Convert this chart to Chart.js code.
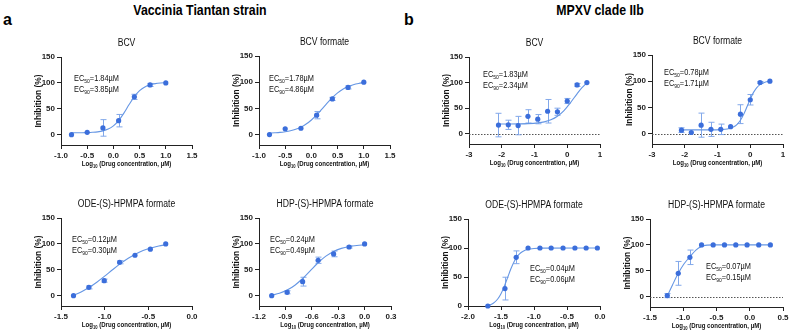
<!DOCTYPE html>
<html>
<head>
<meta charset="utf-8">
<script src="https://cdn.jsdelivr.net/npm/chart.js@4.4.1/dist/chart.umd.min.js"></script>
<style>
  body { margin: 0; width: 790px; height: 332px; overflow: hidden; background: #fff; position: relative; }
  canvas { position: absolute; }
  .hd { position: absolute; font-family: "Liberation Sans", Arial, sans-serif; font-weight: bold; color: #000; white-space: nowrap; }
</style>
</head>
<body>
<div class="hd" style="left:3px;top:11px;font-size:16px;line-height:18px">a</div>
<div class="hd" style="left:404px;top:11px;font-size:16px;line-height:18px">b</div>
<div class="hd" style="left:100px;top:1px;width:200px;text-align:center;font-size:14px;line-height:18px;transform:scaleX(0.88)">Vaccinia Tiantan strain</div>
<div class="hd" style="left:500px;top:1px;width:200px;text-align:center;font-size:14px;line-height:18px;transform:scaleX(0.88)">MPXV clade IIb</div>
<script>
// ---- data (log10 concentration, % inhibition, SD) ----
const yTicks = [0, 50, 100, 150];

// Vaccinia - BCV
const vacBcvX = [-0.8, -0.5, -0.2, 0.1, 0.4, 0.7, 1.0];
const vacBcvY = [0, 4.5, 13, 27, 73, 96, 100];
const vacBcvErr = [0, 0, 16, 12, 5, 3, 0];
const vacBcvCurveX = [-0.8, -0.7, -0.6, -0.5, -0.4, -0.3, -0.2, -0.1, 0, 0.1, 0.2, 0.3, 0.4, 0.5, 0.6, 0.7, 0.8, 0.9, 1.0];
const vacBcvCurveY = [3.6, 3.6, 3.7, 4.0, 4.5, 5.4, 7.3, 10.7, 17.0, 27.1, 41.5, 58.1, 73.4, 84.9, 92.2, 96.4, 98.6, 99.8, 100.4];
const vacBcvEC = ['1.84', '3.85'];

// Vaccinia - BCV formate
const vacBcvfX = [-0.8, -0.5, -0.2, 0.1, 0.4, 0.7, 1.0];
const vacBcvfY = [0, 11, 12, 37, 68, 90, 100];
const vacBcvfErr = [0, 0, 0, 7, 3, 3, 0];
const vacBcvfCurveX = [-0.8, -0.7, -0.6, -0.5, -0.4, -0.3, -0.2, -0.1, 0, 0.1, 0.2, 0.3, 0.4, 0.5, 0.6, 0.7, 0.8, 0.9, 1.0];
const vacBcvfCurveY = [2.9, 3.4, 4.1, 5.4, 7.2, 10.0, 14.1, 20.0, 27.8, 37.5, 48.6, 60.0, 70.6, 79.6, 86.6, 91.7, 95.2, 97.6, 99.2];
const vacBcvfEC = ['1.78', '4.86'];

// Vaccinia - ODE-(S)-HPMPA formate
const vacOdeX = [-1.357, -1.181, -1.005, -0.829, -0.653, -0.477, -0.301];
const vacOdeY = [0, 16, 29, 64.5, 78, 89.7, 100];
const vacOdeErr = [0, 3, 3, 3, 0, 0, 0];
const vacOdeCurveX = [-1.357, -1.27, -1.18, -1.09, -1.0, -0.91, -0.82, -0.73, -0.65, -0.56, -0.47, -0.38, -0.3];
const vacOdeCurveY = [0.8, 7.2, 15.7, 26.0, 37.7, 50.0, 61.8, 72.3, 80.1, 87.1, 92.2, 96.0, 98.3];
const vacOdeEC = ['0.12', '0.30'];

// Vaccinia - HDP-(S)-HPMPA formate
const vacHdpX = [-1.056, -0.880, -0.704, -0.528, -0.352, -0.176, 0];
const vacHdpY = [0, 6.5, 27, 68.4, 80.6, 94, 100];
const vacHdpErr = [0, 3, 8.5, 6, 5.5, 2, 0];
const vacHdpCurveX = [-1.056, -0.968, -0.88, -0.792, -0.704, -0.616, -0.528, -0.44, -0.352, -0.264, -0.176, -0.088, 0];
const vacHdpCurveY = [0.9, 4.6, 10.7, 20.2, 33.1, 48.5, 63.6, 76.3, 85.5, 91.3, 94.9, 96.9, 98.1];
const vacHdpEC = ['0.24', '0.49'];

// MPXV - BCV
const mpxBcvX = [-2.1, -1.8, -1.5, -1.2, -0.9, -0.6, -0.3, 0, 0.3, 0.6];
const mpxBcvY = [17, 17.5, 16, 34, 28.5, 44, 43, 64, 95.5, 100];
const mpxBcvErr = [23, 9, 18, 13, 9, 23, 7, 5, 3, 0];
const mpxBcvCurveX = [-2.1, -1.8, -1.5, -1.2, -0.9, -0.7, -0.5, -0.3, -0.1, 0.1, 0.3, 0.45, 0.6];
const mpxBcvCurveY = [19.0, 19.1, 19.3, 19.8, 21.2, 23.3, 27.3, 34.3, 45.4, 60.9, 78.1, 90.0, 99.7];
const mpxBcvEC = ['1.83', '2.34'];

// MPXV - BCV formate
const mpxBcvfX = [-2.1, -1.8, -1.5, -1.2, -0.9, -0.6, -0.3, 0, 0.3, 0.6];
const mpxBcvfY = [6.5, 2, 16, 8, 8, 13, 37, 64.5, 97.5, 100];
const mpxBcvfErr = [4.5, 0, 23, 13.5, 10, 0, 18, 10, 2, 0];
const mpxBcvfCurveX = [-2.1, -1.5, -1.2, -0.9, -0.7, -0.5, -0.4, -0.3, -0.2, -0.1, 0, 0.1, 0.2, 0.3, 0.45, 0.6];
const mpxBcvfCurveY = [7, 7, 7, 7.5, 8.7, 12.9, 17.6, 25.3, 36.7, 51.0, 65.9, 78.6, 87.8, 93.5, 98.0, 99.8];
const mpxBcvfEC = ['0.78', '1.71'];

// MPXV - ODE-(S)-HPMPA formate
const mpxOdeX = [-1.70, -1.44, -1.27, -1.09, -0.91, -0.74, -0.56, -0.38, -0.21, -0.04];
const mpxOdeY = [0, 30, 84, 100, 100, 100, 100, 100, 100, 100];
const mpxOdeErr = [0, 19.6, 11, 0, 0, 0, 0, 0, 0, 0];
const mpxOdeCurveX = [-1.70, -1.65, -1.60, -1.55, -1.50, -1.45, -1.40, -1.35, -1.30, -1.25, -1.20, -1.15, -1.10, -1.0, -0.9, -0.04];
const mpxOdeCurveY = [0.6, 2.6, 6.2, 12.1, 21.2, 33.9, 49, 64.1, 76.8, 85.9, 91.8, 95.4, 97.4, 99.2, 99.8, 100];
const mpxOdeEC = ['0.04', '0.06'];

// MPXV - HDP-(S)-HPMPA formate
const mpxHdpX = [-1.24, -1.075, -0.90, -0.725, -0.55, -0.38, -0.21, -0.04, 0.135, 0.31];
const mpxHdpY = [2, 45, 76, 100, 100, 100, 100, 100, 100, 100];
const mpxHdpErr = [4, 23, 14, 0, 0, 0, 0, 0, 0, 0];
const mpxHdpCurveX = [-1.24, -1.16, -1.075, -0.99, -0.9, -0.81, -0.725, -0.64, -0.55, 0.31];
const mpxHdpCurveY = [1, 23, 45, 63, 77, 90, 97, 99.5, 100, 100];
const mpxHdpEC = ['0.07', '0.15'];

// x tick labels per panel
const xTicksVacBcv = [-1.0, -0.5, 0, 0.5, 1.0, 1.5];
const xTicksVacOde = [-1.5, -1.0, -0.5, 0];
const xTicksVacHdp = [-1.2, -0.9, -0.6, -0.3, 0, 0.3];
const xTicksMpxBcv = [-3, -2, -1, 0, 1];
const xTicksMpxOde = [-2.0, -1.5, -1.0, -0.5, 0];
const xTicksMpxHdp = [-1.5, -1.0, -0.5, 0, 0.5];

// ---- drawing ----
const FONT = '"Liberation Sans", Arial, sans-serif';
const pointBlue = '#3b6edb';
const curveBlue = '#6596e4';
const barBlue = '#82a8ea';
const axisColor = '#222';

function drawRich(ctx, parts, x, y, size, weight, sx, align) {
    ctx.save();
    ctx.translate(x, y);
    ctx.scale(sx, 1);
    const fMain = weight + ' ' + size + 'px ' + FONT;
    const fSub = weight + ' ' + (size * 0.68) + 'px ' + FONT;
    let w = 0;
    parts.forEach(([t, s]) => { ctx.font = s ? fSub : fMain; w += ctx.measureText(t).width; });
    let cx = align === 'center' ? -w / 2 : 0;
    ctx.textBaseline = 'middle';
    ctx.textAlign = 'left';
    ctx.fillStyle = '#111';
    parts.forEach(([t, s]) => {
        ctx.font = s ? fSub : fMain;
        ctx.fillText(t, cx, s ? size * 0.32 : 0);
        cx += ctx.measureText(t).width;
    });
    ctx.restore();
}

const decor = {
    id: 'decor',
    beforeDatasetsDraw(chart, args, o) {
        const { ctx, chartArea } = chart;
        const x = chart.scales.x, y = chart.scales.y;
        ctx.save();
        if (o.zero) {
            const py = Math.round(y.getPixelForValue(0)) + 0.5;
            ctx.strokeStyle = '#555';
            ctx.lineWidth = 1;
            ctx.setLineDash([1.5, 1.5]);
            ctx.beginPath();
            ctx.moveTo(chartArea.left, py);
            ctx.lineTo(chartArea.right, py);
            ctx.stroke();
            ctx.setLineDash([]);
        }
        ctx.strokeStyle = barBlue;
        ctx.lineWidth = 1;
        o.xs.forEach((v, i) => {
            const e = o.err[i];
            if (!e) return;
            const px = Math.round(x.getPixelForValue(v)) + 0.5;
            const t = y.getPixelForValue(o.ys[i] + e);
            const b = y.getPixelForValue(o.ys[i] - e);
            ctx.beginPath();
            ctx.moveTo(px, t); ctx.lineTo(px, b);
            ctx.moveTo(px - 3, t); ctx.lineTo(px + 3, t);
            ctx.moveTo(px - 3, b); ctx.lineTo(px + 3, b);
            ctx.stroke();
        });
        ctx.restore();
    },
    afterDraw(chart, args, o) {
        const { ctx, chartArea } = chart;
        const midX = (chartArea.left + chartArea.right) / 2;
        const midY = (chartArea.top + chartArea.bottom) / 2;
        // panel title
        drawRich(ctx, [[o.title, 0]], midX, chartArea.top - 14, 10, 'normal', 0.86, 'center');
        // x axis title
        drawRich(ctx, [['Log', 0], ['10', 1], [' (Drug concentration, µM)', 0]],
            midX, chartArea.bottom + 19, 7.6, 'bold', 0.8, 'center');
        // y axis title
        ctx.save();
        ctx.translate(chartArea.left - 22, midY);
        ctx.rotate(-Math.PI / 2);
        drawRich(ctx, [['Inhibition (%)', 0]], 0, 0, 8.4, 'bold', 1, 'center');
        ctx.restore();
        // EC50 / EC90
        const ax = chartArea.left + o.ann[0], ay = chartArea.top + o.ann[1];
        drawRich(ctx, [['EC', 0], ['50', 1], ['=' + o.ec[0] + 'µM', 0]], ax, ay, 8.5, 'normal', 0.87, 'left');
        drawRich(ctx, [['EC', 0], ['90', 1], ['=' + o.ec[1] + 'µM', 0]], ax, ay + 10.5, 8.5, 'normal', 0.87, 'left');
    }
};
Chart.register(decor);

function makePanel(p) {
    const [L, R, T, B] = p.box;
    const w = R - L + 60, h = B - T + 60;
    const cv = document.createElement('canvas');
    cv.width = w; cv.height = h;
    cv.style.left = (L - 48) + 'px';
    cv.style.top = (T - 24) + 'px';
    cv.style.width = w + 'px';
    cv.style.height = h + 'px';
    document.body.appendChild(cv);

    const tickFont = { family: FONT, size: 8, weight: 'bold' };
    new Chart(cv, {
        type: 'scatter',
        data: {
            datasets: [
                {
                    data: p.cx.map((v, i) => ({ x: v, y: p.cy[i] })),
                    showLine: true, pointRadius: 0, borderColor: curveBlue, borderWidth: 1.1,
                    cubicInterpolationMode: 'monotone', order: 2
                },
                {
                    data: p.x.map((v, i) => ({ x: v, y: p.y[i] })),
                    pointRadius: 2.6, pointBackgroundColor: pointBlue, pointBorderWidth: 0,
                    clip: false, order: 1
                }
            ]
        },
        options: {
            responsive: false,
            animation: false,
            events: [],
            layout: { padding: { top: 24, right: 12, left: 0, bottom: 0 } },
            plugins: {
                legend: { display: false },
                tooltip: { enabled: false },
                decor: { title: p.title, xs: p.x, ys: p.y, err: p.err, zero: p.zero, ann: p.ann, ec: p.ec }
            },
            scales: {
                x: {
                    type: 'linear',
                    min: p.xt[0], max: p.xt[p.xt.length - 1],
                    afterBuildTicks: s => { s.ticks = p.xt.map(v => ({ value: v })); },
                    afterFit: s => { s.height = 36; },
                    ticks: { font: tickFont, color: axisColor, padding: 2, maxRotation: 0, autoSkip: false,
                        callback: v => v.toFixed(p.xd) },
                    grid: { drawOnChartArea: false, tickLength: 4, color: axisColor },
                    border: { color: axisColor, width: 1 }
                },
                y: {
                    type: 'linear',
                    min: p.ymin, max: 150,
                    afterBuildTicks: s => { s.ticks = yTicks.map(v => ({ value: v })); },
                    afterFit: s => { s.width = 48; },
                    ticks: { font: tickFont, color: axisColor, padding: 2, autoSkip: false },
                    grid: { drawOnChartArea: false, tickLength: 4, color: axisColor },
                    border: { color: axisColor, width: 1 }
                }
            }
        }
    });
}

makePanel({ title: 'BCV', box: [61, 192, 57, 145], ymin: -20, xt: xTicksVacBcv, xd: 1,
    x: vacBcvX, y: vacBcvY, err: vacBcvErr, cx: vacBcvCurveX, cy: vacBcvCurveY, ec: vacBcvEC, ann: [13, 22], zero: false });
makePanel({ title: 'BCV formate', box: [259, 390, 56, 145], ymin: -20, xt: xTicksVacBcv, xd: 1,
    x: vacBcvfX, y: vacBcvfY, err: vacBcvfErr, cx: vacBcvfCurveX, cy: vacBcvfCurveY, ec: vacBcvfEC, ann: [10, 23], zero: false });
makePanel({ title: 'BCV', box: [469, 600, 57, 144], ymin: -20, xt: xTicksMpxBcv, xd: 0,
    x: mpxBcvX, y: mpxBcvY, err: mpxBcvErr, cx: mpxBcvCurveX, cy: mpxBcvCurveY, ec: mpxBcvEC, ann: [14, 18], zero: true });
makePanel({ title: 'BCV formate', box: [652, 783, 55, 144], ymin: -20, xt: xTicksMpxBcv, xd: 0,
    x: mpxBcvfX, y: mpxBcvfY, err: mpxBcvfErr, cx: mpxBcvfCurveX, cy: mpxBcvfCurveY, ec: mpxBcvfEC, ann: [12, 18], zero: true });
makePanel({ title: 'ODE-(S)-HPMPA formate', box: [61, 192, 218, 306], ymin: -20, xt: xTicksVacOde, xd: 1,
    x: vacOdeX, y: vacOdeY, err: vacOdeErr, cx: vacOdeCurveX, cy: vacOdeCurveY, ec: vacOdeEC, ann: [11, 22], zero: false });
makePanel({ title: 'HDP-(S)-HPMPA formate', box: [259, 391, 218, 306], ymin: -20, xt: xTicksVacHdp, xd: 1,
    x: vacHdpX, y: vacHdpY, err: vacHdpErr, cx: vacHdpCurveX, cy: vacHdpCurveY, ec: vacHdpEC, ann: [11, 22], zero: false });
makePanel({ title: 'ODE-(S)-HPMPA formate', box: [468, 600, 219, 306], ymin: 0, xt: xTicksMpxOde, xd: 1,
    x: mpxOdeX, y: mpxOdeY, err: mpxOdeErr, cx: mpxOdeCurveX, cy: mpxOdeCurveY, ec: mpxOdeEC, ann: [62, 50], zero: false });
makePanel({ title: 'HDP-(S)-HPMPA formate', box: [650, 783, 219, 307], ymin: -20, xt: xTicksMpxHdp, xd: 1,
    x: mpxHdpX, y: mpxHdpY, err: mpxHdpErr, cx: mpxHdpCurveX, cy: mpxHdpCurveY, ec: mpxHdpEC, ann: [56, 48], zero: true });
</script>
</body>
</html>
